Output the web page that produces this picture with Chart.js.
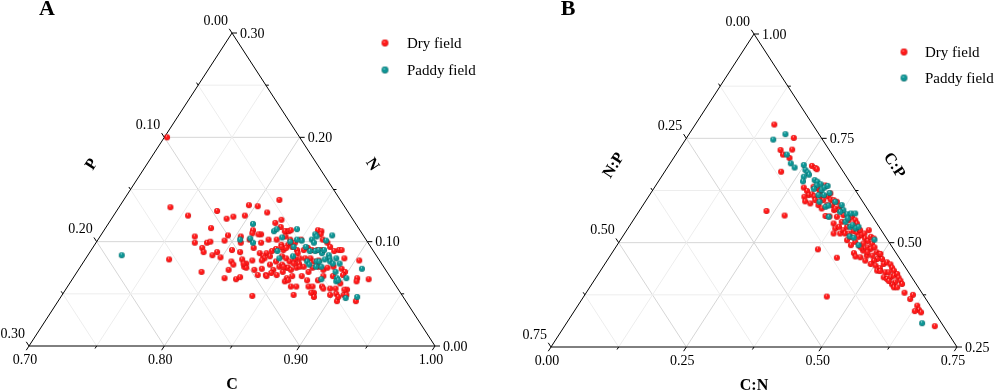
<!DOCTYPE html>
<html><head><meta charset="utf-8">
<script src="https://cdn.jsdelivr.net/npm/chart.js@4/dist/chart.umd.min.js"></script>
<style>
body{margin:0;background:#fff;width:996px;height:391px;overflow:hidden;position:relative}
.p{position:absolute;top:0;width:498px;height:391px}
</style></head><body>
<div class="p" style="left:0"><canvas id="ca" width="498" height="391"></canvas></div>
<div class="p" style="left:498px"><canvas id="cb" width="498" height="391"></canvas></div>
<script>
// ---------- Panel A : C, N, P proportions ----------
const seriesNames = ['Dry field','Paddy field'];
const aDryC = [.702,.738,.755,.774,.785,.789,.795,.802,.812,.815,.797,.778,.770,.773,.782,.784,.794,.794,.781,.784,.792,.794,.799,.804,.762,.792,.812,.821,.823,.811,.809,.812,.811,.804,.807,.821,.821,.816,.824,.841,.830,.835,.835,.841,.818,.816,.810,.811,.812,.822,.826,.819,.826,.831,.830,.835,.834,.836,.823,.826,.829,.835,.837,.832,.838,.842,.843,.832,.831,.839,.844,.842,.847,.848,.853,.844,.849,.852,.858,.842,.823,.819,.834,.837,.838,.858,.861,.842,.844,.847,.850,.862,.866,.871,.839,.843,.847,.852,.854,.857,.859,.863,.867,.870,.875,.880,.883,.885,.891,.903,.844,.848,.852,.855,.860,.858,.862,.866,.870,.873,.850,.854,.857,.860,.862,.865,.871,.872,.876,.881,.883,.887,.894,.898,.898,.910,.919,.858,.860,.861,.865,.869,.878,.881,.885,.883,.888,.890,.895,.899,.908,.908,.902,.906,.898,.920,.871,.887,.905,.906,.910,.911,.874,.882,.884,.891,.900,.868,.856];
const aDryN = [.200,.133,.125,.129,.122,.124,.135,.134,.128,.140,.125,.113,.105,.099,.099,.100,.106,.101,.094,.090,.087,.090,.085,.092,.083,.071,.065,.064,.066,.073,.081,.078,.090,.105,.099,.076,.079,.083,.082,.048,.073,.068,.074,.068,.107,.107,.111,.108,.102,.099,.102,.094,.089,.089,.086,.086,.091,.093,.118,.121,.114,.110,.105,.102,.097,.092,.097,.084,.082,.078,.073,.081,.076,.078,.075,.070,.068,.071,.062,.067,.075,.079,.110,.110,.111,.111,.110,.102,.099,.099,.102,.107,.102,.099,.095,.094,.095,.092,.089,.092,.094,.092,.092,.092,.095,.091,.092,.092,.084,.082,.086,.084,.081,.083,.079,.084,.084,.084,.081,.082,.076,.075,.073,.075,.076,.076,.071,.075,.076,.073,.075,.076,.074,.071,.068,.065,.064,.065,.063,.067,.057,.057,.057,.057,.051,.051,.057,.055,.055,.055,.054,.049,.050,.043,.049,.043,.049,.047,.047,.054,.049,.062,.063,.063,.067,.067,.060,.067,.079];
const aDryP = [.098,.129,.120,.096,.093,.087,.070,.064,.060,.045,.078,.109,.125,.128,.119,.116,.100,.105,.125,.126,.121,.116,.116,.104,.155,.137,.123,.115,.111,.116,.110,.110,.099,.091,.094,.103,.100,.101,.094,.111,.097,.097,.091,.091,.075,.077,.079,.081,.086,.079,.072,.087,.085,.080,.084,.079,.075,.071,.059,.053,.057,.055,.058,.066,.065,.066,.060,.084,.087,.083,.083,.077,.077,.074,.072,.086,.083,.077,.080,.091,.102,.102,.056,.053,.051,.031,.029,.056,.057,.054,.048,.031,.032,.030,.066,.063,.058,.056,.057,.051,.047,.045,.041,.038,.030,.029,.025,.023,.025,.015,.070,.068,.067,.062,.061,.058,.054,.050,.049,.045,.074,.071,.070,.065,.062,.059,.058,.053,.048,.046,.042,.037,.032,.031,.034,.025,.017,.077,.077,.072,.078,.074,.065,.062,.064,.066,.055,.055,.050,.046,.038,.043,.048,.051,.053,.037,.080,.066,.048,.040,.041,.027,.063,.055,.049,.042,.040,.065,.065];
const aPadC = [.725,.807,.805,.812,.816,.826,.827,.835,.838,.843,.842,.858,.860,.858,.861,.871,.869,.847,.851,.848,.843,.857,.862,.866,.868,.872,.872,.878,.880,.872,.874,.877,.882,.885,.885,.890,.878,.852,.865,.891,.895,.896,.902,.909,.911,.919,.884,.897,.874,.868];
const aPadN = [.087,.117,.102,.103,.099,.110,.112,.104,.091,.084,.112,.107,.105,.102,.099,.106,.101,.102,.101,.095,.100,.095,.091,.091,.092,.089,.092,.087,.084,.081,.081,.083,.081,.079,.084,.079,.076,.086,.081,.071,.065,.062,.065,.074,.046,.047,.064,.063,.076,.078];
const aPadP = [.188,.076,.093,.085,.085,.064,.061,.061,.071,.073,.046,.035,.035,.040,.040,.023,.030,.051,.048,.057,.057,.048,.047,.043,.040,.039,.036,.035,.036,.047,.045,.040,.037,.036,.031,.031,.046,.062,.054,.038,.040,.042,.033,.017,.043,.034,.052,.040,.050,.054];

// ---------- Panel B : C:N, N:P, C:P proportions ----------
const bDryCN = [.146,.198,.188,.209,.198,.214,.215,.235,.274,.376,.421,.449,.684,.265,.274,.278,.276,.286,.293,.302,.294,.299,.288,.295,.307,.306,.319,.313,.331,.340,.340,.349,.359,.350,.358,.354,.359,.368,.366,.382,.374,.383,.388,.398,.400,.403,.398,.400,.410,.417,.420,.428,.431,.436,.440,.443,.450,.458,.447,.459,.466,.469,.465,.473,.478,.488,.495,.497,.493,.474,.461,.449,.447,.454,.464,.477,.491,.502,.511,.513,.454,.506,.497,.515,.519,.528,.535,.517,.528,.534,.542,.531,.539,.544,.548,.552,.559,.566,.558,.555,.545,.562,.568,.573,.588,.606,.606,.627,.635,.629,.642,.311,.327,.332,.346,.312,.324,.334,.372,.387,.407,.421,.436,.432,.453,.471,.484,.419,.386,.414];
const bDryNP = [.071,.051,.090,.068,.091,.083,.115,.189,.161,.140,.115,.180,.016,.051,.047,.046,.092,.090,.073,.068,.092,.085,.102,.106,.099,.083,.071,.050,.058,.057,.070,.061,.063,.086,.079,.048,.059,.054,.047,.052,.080,.083,.074,.080,.070,.059,.048,.038,.036,.037,.052,.048,.039,.050,.042,.035,.040,.038,.023,.027,.024,.033,.046,.042,.033,.035,.032,.042,.050,.057,.058,.059,.078,.079,.071,.066,.060,.053,.056,.048,.058,.033,.030,.036,.028,.024,.025,.051,.043,.037,.025,.052,.048,.039,.031,.023,.025,.025,.037,.045,.047,.045,.039,.026,.032,.019,.029,.024,.026,.035,.025,.067,.071,.050,.052,.086,.086,.084,.066,.063,.071,.065,.062,.074,.049,.052,.047,.075,.092,.064];
const bDryCP = [.783,.751,.722,.723,.711,.703,.670,.576,.565,.484,.464,.371,.300,.684,.679,.676,.632,.624,.634,.630,.614,.616,.610,.599,.594,.611,.610,.637,.611,.603,.590,.590,.578,.564,.563,.598,.582,.578,.587,.566,.546,.534,.538,.522,.530,.538,.554,.562,.554,.546,.528,.524,.530,.514,.518,.522,.510,.504,.530,.514,.510,.498,.489,.485,.489,.477,.473,.461,.457,.469,.481,.492,.475,.467,.465,.457,.449,.445,.433,.439,.488,.461,.473,.449,.453,.448,.440,.432,.429,.429,.433,.417,.413,.417,.421,.425,.416,.409,.405,.400,.408,.393,.393,.401,.380,.375,.365,.349,.339,.336,.333,.622,.602,.618,.602,.602,.590,.582,.562,.550,.522,.514,.502,.494,.498,.477,.469,.506,.522,.522];
const bPadCN = [.178,.162,.205,.223,.235,.249,.258,.265,.270,.263,.267,.287,.294,.303,.297,.296,.312,.314,.318,.312,.322,.330,.322,.339,.343,.357,.351,.367,.376,.372,.388,.394,.402,.394,.409,.411,.421,.419,.428,.446,.469,.657,.424,.394];
const bPadNP = [.062,.091,.084,.087,.085,.065,.068,.067,.067,.079,.086,.063,.060,.057,.066,.075,.062,.054,.046,.074,.064,.051,.080,.075,.068,.081,.051,.043,.046,.054,.044,.036,.028,.056,.053,.047,.045,.066,.060,.060,.024,.036,.038,.048];
const bPadCP = [.760,.747,.711,.690,.680,.686,.674,.668,.663,.658,.647,.650,.646,.640,.637,.629,.626,.632,.636,.614,.614,.619,.598,.586,.589,.562,.598,.590,.578,.574,.568,.570,.570,.550,.538,.542,.534,.515,.512,.494,.507,.307,.538,.558];

// ---------- tick labels ----------
const aTicksC = ['0.70','0.80','0.90','1.00'];   // bottom
const aTicksN = ['0.00','0.10','0.20','0.30'];   // right (bottom -> top)
const aTicksP = ['0.00','0.10','0.20','0.30'];   // left (top -> bottom)
const bTicksCN = ['0.00','0.25','0.50','0.75'];
const bTicksCP = ['0.25','0.50','0.75','1.00'];
const bTicksNP = ['0.00','0.25','0.50','0.75'];

const SERIF = '"Liberation Serif","Times New Roman",serif';

function makeSphere(col, dark, light, r){
  const s = Math.ceil(r*2+2);
  const c = document.createElement('canvas'); c.width = s; c.height = s;
  const g = c.getContext('2d'); const cx = s/2, cy = s/2;
  const gr = g.createRadialGradient(cx - r*0.25, cy - r*0.45, 0, cx, cy, r);
  gr.addColorStop(0, light); gr.addColorStop(0.3, col); gr.addColorStop(0.8, col); gr.addColorStop(1, dark);
  g.fillStyle = gr; g.beginPath(); g.arc(cx, cy, r, 0, Math.PI*2); g.fill();
  return c;
}
const sprDry = makeSphere('#ff1a1a', '#c00000', '#ffe8e8', 3);
const sprPad = makeSphere('#0e9595', '#005c5c', '#d9ffff', 3);
const sprDryL = makeSphere('#ff1a1a', '#c00000', '#ffe8e8', 3.4);
const sprPadL = makeSphere('#0e9595', '#005c5c', '#d9ffff', 3.4);

// barycentric (a: bottom axis, b: right axis, c: left axis) -> plot coords
function toXY(a, b, c){ const s = a+b+c; return {x:(a + b/2)/s, y: b/s}; }

function gridSets(){
  const sets = [];
  for(let k=1;k<=5;k++){
    const t = k/6, major = (k%2===0);
    const col = major ? '#d6d6d6' : '#ededed';
    const lines = [
      [{x:t/2,y:t},{x:1-t/2,y:t}],
      [{x:t,y:0},{x:t+(1-t)/2,y:1-t}],
      [{x:1-t,y:0},{x:(1-t)/2,y:1-t}]
    ];
    lines.forEach(d => sets.push({type:'line', data:d, borderColor:col, borderWidth:1, pointRadius:0, order:5, clip:false, parsing:false}));
  }
  return sets;
}

const ternaryPlugin = {
  id:'ternary',
  afterDraw(chart, args, o){
    const ctx = chart.ctx, xs = chart.scales.x, ys = chart.scales.y;
    const P = (x,y) => [xs.getPixelForValue(x), ys.getPixelForValue(y)];
    const [x0,y0] = P(0,0), [x1] = P(1,0), [, y2] = P(0.5,1);
    const W = x1-x0, H = y0-y2, L = Math.hypot(W/2, H);
    const dB = [-(W/2)/L, H/L], dL = [-(W/2)/L, -H/L], dR = [1,0];
    ctx.save();
    ctx.strokeStyle = '#000'; ctx.lineWidth = 1;
    ctx.fillStyle = '#000';
    ctx.font = '14px ' + SERIF;
    for(let k=0;k<=6;k++){
      const t = k/6, major = (k%2===0), len = major ? 5 : 3;
      const pts = [[P(t,0), dB], [P(1-t/2,t), dR], [P((1-t)/2,1-t), dL]];
      pts.forEach(([p,d]) => {
        ctx.beginPath(); ctx.moveTo(p[0], p[1]); ctx.lineTo(p[0]+d[0]*len, p[1]+d[1]*len); ctx.stroke();
      });
      if(major){
        const j = k/2;
        let p = pts[0][0];
        ctx.textAlign = 'center'; ctx.textBaseline = 'middle';
        ctx.fillText(o.bottomTicks[j], p[0]-4, p[1]+14);
        p = pts[1][0];
        ctx.textAlign = 'left';
        ctx.fillText(o.rightTicks[j], p[0]+8, p[1]+1);
        p = pts[2][0];
        ctx.textAlign = 'right';
        ctx.fillText(o.leftTicks[j], p[0]-4, p[1]-12);
      }
    }
    // axis titles
    ctx.font = 'bold 16px ' + SERIF;
    ctx.textAlign = 'center'; ctx.textBaseline = 'middle';
    const [bx,by] = P(0.5,0);
    ctx.fillText(o.titles[0], bx, by+39);
    const ang = Math.atan2(H, W/2);
    const nL = [-H/L, -(W/2)/L];
    let [mx,my] = P(0.25,0.5);
    ctx.save(); ctx.translate(mx + nL[0]*46, my + nL[1]*46); ctx.rotate(-ang); ctx.fillText(o.titles[1], 0, 0); ctx.restore();
    [mx,my] = P(0.75,0.5);
    ctx.save(); ctx.translate(mx - nL[0]*46, my + nL[1]*46); ctx.rotate(ang); ctx.fillText(o.titles[2], 0, 0); ctx.restore();
    // panel letter
    ctx.font = 'bold 22px ' + SERIF;
    ctx.fillText(o.letter[0], o.letter[1], o.letter[2]);
    // legend
    ctx.font = '15px ' + SERIF; ctx.textAlign = 'left';
    const lg = o.legend;
    ctx.drawImage(sprDryL, lg[0]-sprDryL.width/2, lg[1]-sprDryL.height/2);
    ctx.fillText(seriesNames[0], lg[2], lg[1]+1);
    ctx.drawImage(sprPadL, lg[0]-sprPadL.width/2, lg[1]+lg[3]-sprPadL.height/2);
    ctx.fillText(seriesNames[1], lg[2], lg[1]+lg[3]+1);
    ctx.restore();
  }
};

function makeChart(id, dry, pad, pad4, opts){
  const frame = [{x:0,y:0},{x:1,y:0},{x:0.5,y:1},{x:0,y:0}];
  return new Chart(document.getElementById(id), {
    type:'scatter',
    data:{datasets:[
      {label:seriesNames[1], data:pad, pointStyle:sprPad, pointRadius:3, order:0, clip:false},
      {label:seriesNames[0], data:dry, pointStyle:sprDry, pointRadius:3, order:1, clip:false},
      {type:'line', label:'frame', data:frame, borderColor:'#000', borderWidth:1, pointRadius:0, order:2, clip:false},
      ...gridSets()
    ]},
    options:{
      responsive:false, animation:false, maintainAspectRatio:false,
      layout:{padding:pad4},
      scales:{x:{type:'linear',min:0,max:1,display:false}, y:{type:'linear',min:0,max:1,display:false}},
      elements:{line:{tension:0}},
      plugins:{legend:{display:false}, tooltip:{enabled:false}, ternary:opts}
    },
    plugins:[ternaryPlugin]
  });
}

const dryA = aDryC.map((c,i) => toXY(c-0.7, aDryN[i], aDryP[i]));
const padA = aPadC.map((c,i) => toXY(c-0.7, aPadN[i], aPadP[i]));
const dryB = bDryCN.map((v,i) => toXY(v, bDryCP[i]-0.25, bDryNP[i]));
const padB = bPadCN.map((v,i) => toXY(v, bPadCP[i]-0.25, bPadNP[i]));

makeChart('ca', dryA, padA, {left:29, right:63, top:33, bottom:45}, {
  bottomTicks:aTicksC, rightTicks:aTicksN, leftTicks:aTicksP,
  titles:['C','P','N'], letter:['A',47,9], legend:[385,43,407,27]
});
makeChart('cb', dryB, padB, {left:53, right:39, top:34, bottom:44}, {
  bottomTicks:bTicksCN, rightTicks:bTicksCP, leftTicks:bTicksNP,
  titles:['C:N','N:P','C:P'], letter:['B',70,9], legend:[406,52,427,26]
});
</script>
</body></html>
